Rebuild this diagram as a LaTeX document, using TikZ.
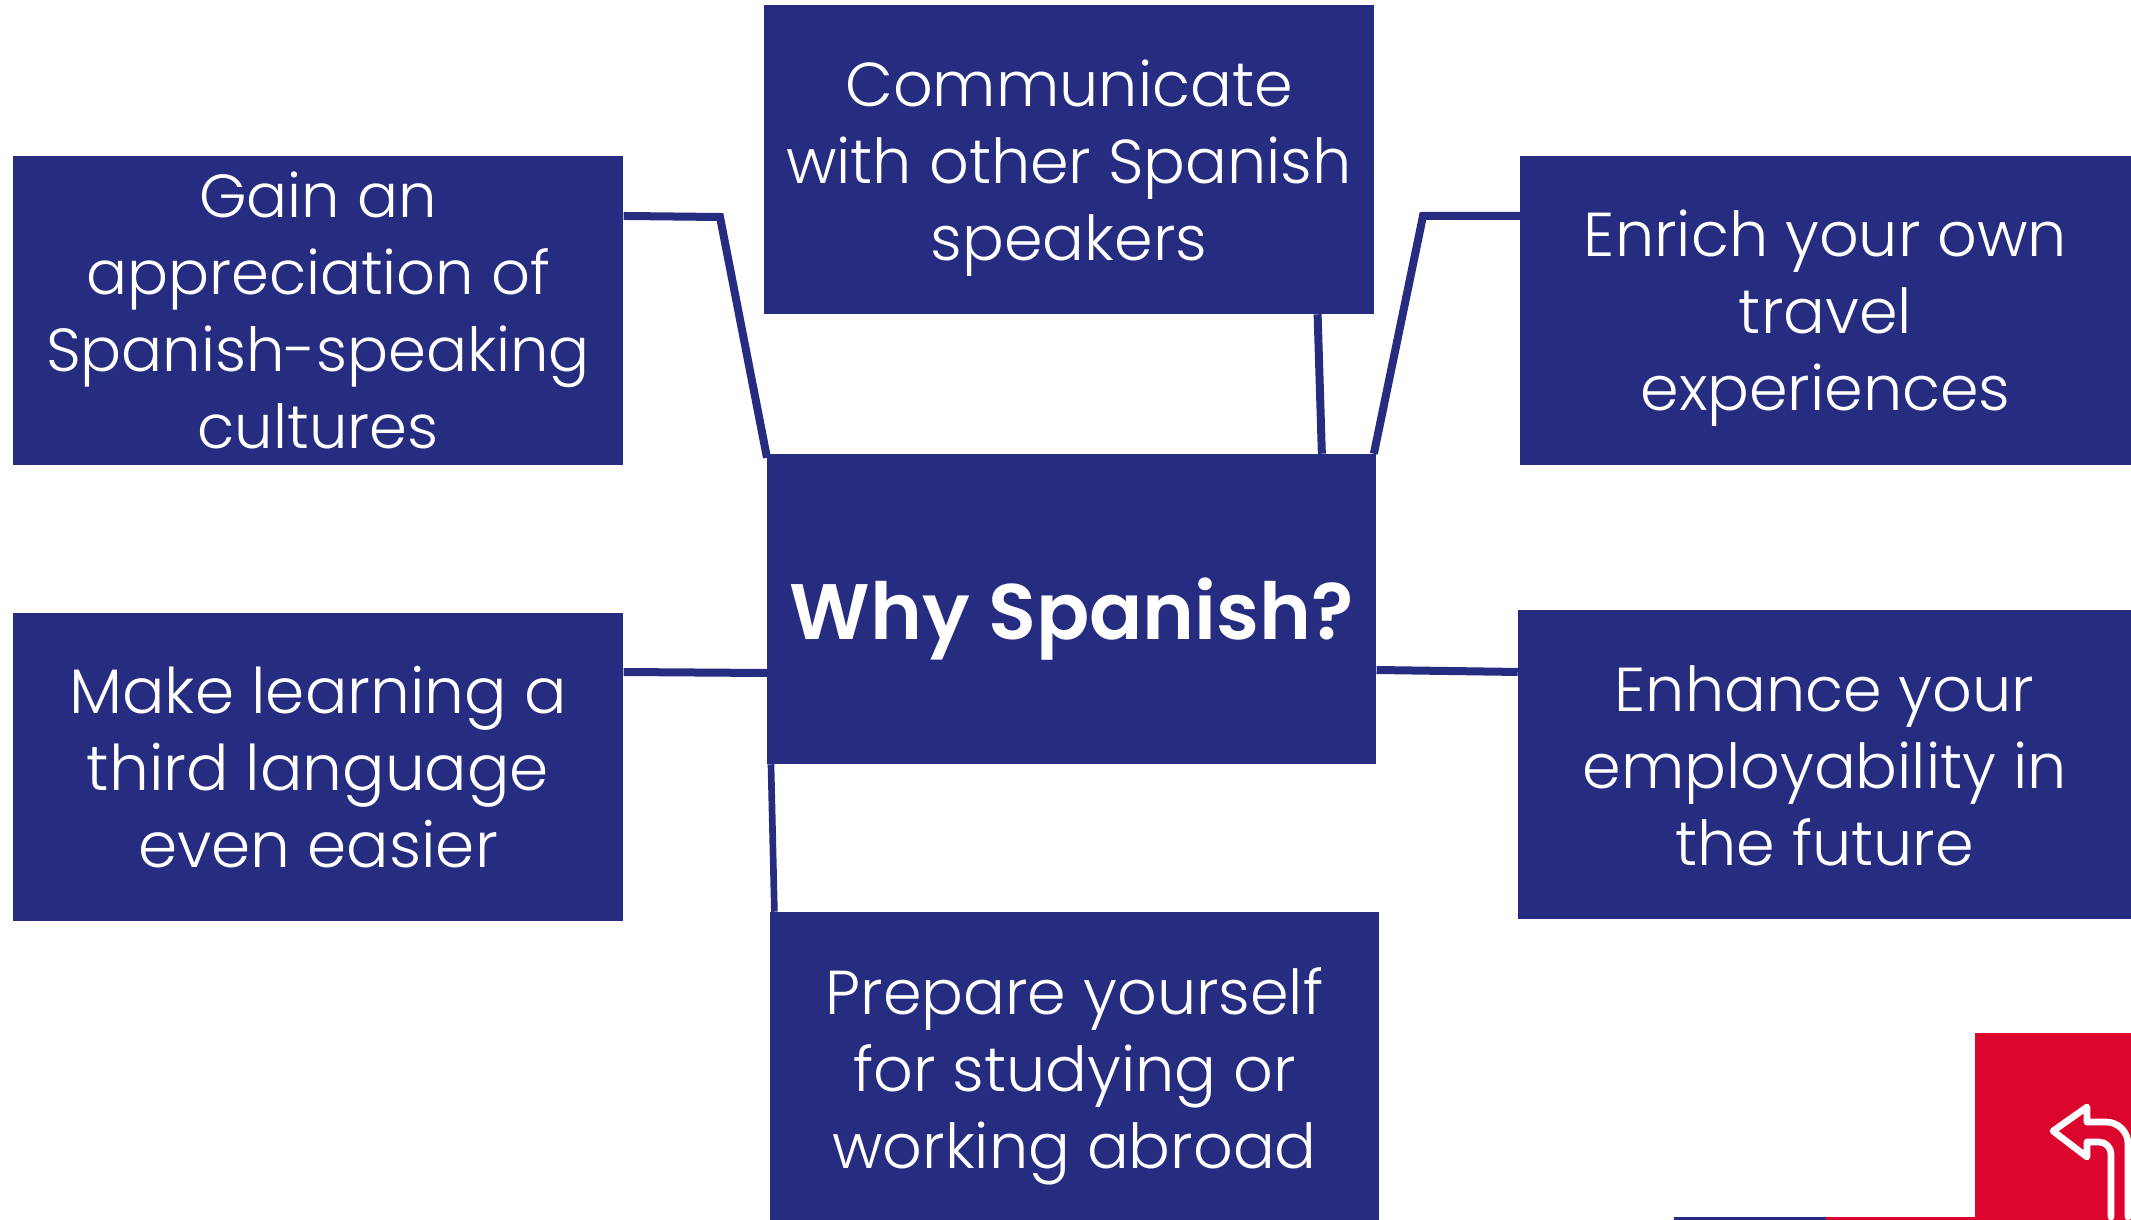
\documentclass[tikz,border=0pt]{standalone}
\usepackage{fontspec}
\setmainfont{Poppins Light}
\newfontfamily\boldf{Poppins SemiBold}
\usetikzlibrary{calc}
\definecolor{navy}{HTML}{262D80}
\definecolor{crimson}{HTML}{DC052D}
\tikzset{
  x=0.75pt,y=-0.75pt,
  box/.style={fill=navy,inner sep=0pt},
  label/.style={text=white,inner sep=0pt,align=center,font=\fontsize{46.5}{57.75}\selectfont},
  link/.style={draw=navy,line width=6pt,line join=miter},
}
\begin{document}
\begin{tikzpicture}
\useasboundingbox (0,0) rectangle (2131,1220);
\node[box,minimum width=456.75pt,minimum height=232.5pt] (center) at (1071.75,609) {};
\node[box,minimum width=457.5pt,minimum height=231.4pt] (top) at (1069,159.75) {};
\node[box,minimum width=458pt,minimum height=231.75pt] (l1) at (318,310.5) {};
\node[box,minimum width=458pt,minimum height=231pt] (l2) at (318,767) {};
\node[box,minimum width=458.25pt,minimum height=231.75pt] (r1) at (1825.5,310.5) {};
\node[box,minimum width=459.75pt,minimum height=231.75pt] (r2) at (1824.5,764.5) {};
\node[box,minimum width=456.75pt,minimum height=231pt] (bottom) at (1074.5,1066) {};
\node[label,yshift=-7.5pt] (centert) at (center) {\boldf\fontsize{59}{70}\selectfont Why Spanish?};
\node[label,yshift=-6pt] (topt) at (top) {Communicate\\with other Spanish\\speakers};
\node[label,font=\fontsize{45.6}{57.75}\selectfont] (l1t) at (l1) {Gain an\\appreciation of\\Spanish-speaking\\cultures};
\node[label,font=\fontsize{47.2}{57.75}\selectfont] (l2t) at (l2) {Make learning a\\third language\\even easier};
\node[label,yshift=-6pt] (r1t) at (r1) {Enrich your own\\travel\\experiences};
\node[label,yshift=-1pt] (r2t) at (r2) {Enhance your\\employability in\\the future};
\node[label,yshift=-8pt] (bottomt) at (bottom) {Prepare yourself\\for studying or\\working abroad};
\coordinate (bl) at (720,217);
\coordinate (br) at (1423,216);
\draw[link] ([yshift=70.9pt]l1.east) -- (bl) -- ([yshift=-3pt]center.north west);
\draw[link] ([yshift=70.9pt]r1.west) -- (br) -- ([xshift=-2pt]center.north east);
\draw[link] ([xshift=-42.5pt]top.south east) -- ([xshift=-41pt]center.north east);
\draw[link] ([yshift=71.25pt]l2.east) -- ([yshift=-48pt]center.west);
\draw[link] ([yshift=-45.75pt]center.east) -- ([yshift=69.4pt]r2.west);
\draw[link,line width=5pt] ([xshift=3pt]center.south west) -- ([xshift=3.5pt]bottom.north west);
% corner tab
\fill[crimson] (1975,1033) rectangle (2131,1220);
\fill[crimson] (1826,1217) rectangle (2131,1220);
\fill[navy] (1674,1217) rectangle (1826,1220);
\draw[white,line width=5pt,line join=round,line cap=round]
  (2111,1217) -- (2111,1154) arc[start angle=0,end angle=-90,radius=12] -- (2087,1142) -- (2087,1157) -- (2053,1131) -- (2087,1107) -- (2087,1122) -- (2106,1122) arc[start angle=-90,end angle=0,radius=22] -- (2128,1217);
\end{tikzpicture}
\end{document}
